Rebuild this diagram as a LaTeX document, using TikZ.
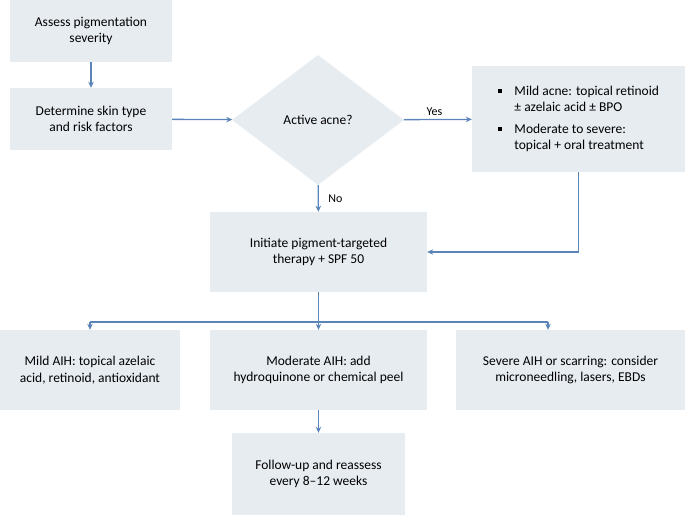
\documentclass[tikz,border=0pt]{standalone}
\usepackage{fontspec}
\setmainfont{Carlito}
\usetikzlibrary{shapes.geometric,arrows.meta}
\definecolor{boxfill}{HTML}{E7ECF1}
\definecolor{arrowblue}{HTML}{5B84B8}
\tikzset{
  flowbox/.style={fill=boxfill, align=center, inner sep=2pt},
  flowline/.style={draw=arrowblue, line width=1.3pt},
  flowarrow/.style={flowline, -{Stealth[length=6pt,width=5.5pt]}},
}
\newcommand{\sqbullet}{\rule[0.15em]{4.5pt}{4.5pt}\hspace{12pt}}
\begin{document}
\begin{tikzpicture}[x=1pt,y=1pt,font=\fontsize{13.5}{16.5}\selectfont]
\useasboundingbox (0,0) rectangle (685,526);

\node[flowbox, minimum width=162pt, minimum height=62pt] (assess) at (91,495) {Assess pigmentation\\severity};
\node[flowbox, minimum width=162pt, minimum height=62pt] (skin) at (91,407) {Determine skin type\\and risk factors};
\node[diamond, fill=boxfill, minimum width=172pt, minimum height=130pt, aspect=1.32, inner sep=0pt] (acne) at (318,406) {Active acne?};
\node[fill=boxfill, minimum width=213pt, minimum height=106pt, align=left, inner sep=2pt] (treat) at (578.5,407)
  {\sqbullet Mild acne: topical retinoid\\ \hspace*{16.5pt}± azelaic acid ± BPO\\[5pt] \sqbullet Moderate to severe:\\ \hspace*{16.5pt}topical + oral treatment};
\node[flowbox, minimum width=217pt, minimum height=80pt] (init) at (318.5,274) {Initiate pigment-targeted\\therapy + SPF 50};

\node[flowbox, minimum width=180pt, minimum height=80pt] (mild) at (90,156) {Mild AIH: topical azelaic\\acid, retinoid, antioxidant};
\node[flowbox, minimum width=217pt, minimum height=80pt] (moderate) at (318.5,156) {Moderate AIH: add\\hydroquinone or chemical peel};
\node[flowbox, minimum width=229pt, minimum height=80pt] (severe) at (570.5,156) {Severe AIH or scarring: consider\\microneedling, lasers, EBDs};
\node[flowbox, minimum width=173pt, minimum height=82pt] (follow) at (318.5,52) {Follow-up and reassess\\every 8--12 weeks};

% connectors
\draw[flowarrow] (assess) -- (skin);
\draw[flowarrow] (skin) -- (acne);
\draw[flowarrow] (acne) -- node[above, pos=0.45, font=\fontsize{12}{14}\selectfont] {Yes} (treat);
\draw[flowarrow] (acne) -- node[right, xshift=6pt, font=\fontsize{12}{14}\selectfont] {No} (init);
\draw[flowarrow] (treat.south) |- (init.east);
\draw[flowarrow] (init) -- (moderate);

\coordinate (branchl) at (mild.north |- 0,204);
\coordinate (branchr) at (548,204);
\draw[flowline] (branchl) -- (branchr);
\draw[flowarrow] (branchl) -- (mild.north -| branchl);
\draw[flowarrow] (branchr) -- (severe.north -| branchr);
\draw[flowarrow] (moderate) -- (follow);
\end{tikzpicture}
\end{document}
